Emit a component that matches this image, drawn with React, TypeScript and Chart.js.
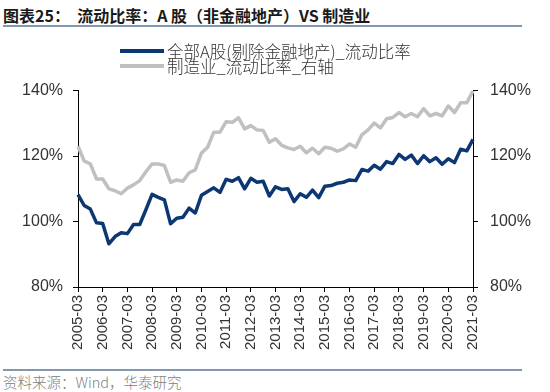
import React, { useEffect, useRef } from "react";
import { Chart, registerables } from "chart.js";

Chart.register(...registerables);

const yearTicks = [
  "2005-03", "2006-03", "2007-03", "2008-03", "2009-03", "2010-03", "2011-03", "2012-03",
  "2013-03", "2014-03", "2015-03", "2016-03", "2017-03", "2018-03", "2019-03", "2020-03", "2021-03",
];
const quarterSuffix = ["03", "06", "09", "12"];

const allAShares = [
  108.2, 104.9, 103.8, 99.6, 99.4, 93.2, 95.4, 96.6, 96.3, 99.1,
  99.1, 103.6, 108.3, 107.4, 106.6, 99.3, 101.0, 101.3, 104.1, 102.6,
  108.0, 109.2, 110.3, 108.9, 112.9, 112.3, 113.4, 110.0, 113.2, 112.0,
  112.3, 107.8, 110.6, 109.8, 110.0, 106.1, 108.5, 107.4, 109.6, 107.3,
  110.8, 111.0, 111.7, 112.0, 112.7, 112.5, 115.9, 115.4, 117.2, 116.0,
  118.3, 117.7, 120.5, 119.0, 120.3, 117.7, 120.1, 118.3, 119.5, 117.5,
  119.2, 118.0, 122.1, 121.6, 125.1,
];

const manufacturing = [
  123.0, 118.5, 117.6, 113.0, 113.0, 110.0, 109.4, 108.5, 110.2, 111.2,
  112.5, 115.2, 117.6, 117.6, 117.1, 112.0, 112.7, 112.3, 114.9, 115.8,
  120.9, 122.7, 127.3, 127.3, 130.5, 130.3, 131.7, 128.3, 129.3, 128.0,
  127.8, 124.2, 125.3, 123.3, 122.5, 122.0, 123.0, 121.0, 122.4, 120.7,
  122.7, 122.4, 121.5, 122.2, 123.7, 122.7, 126.5, 128.0, 130.1, 128.6,
  131.4, 131.8, 133.3, 132.0, 133.0, 132.0, 134.5, 132.3, 133.0, 132.3,
  135.3, 133.3, 136.3, 136.3, 139.9,
];

const yTicks = [80, 100, 120, 140];

const seriesNames = ["全部A股(剔除金融地产)_流动比率", "制造业_流动比率_右轴"];
const colors = ["#0c3772", "#c0c0c0"];

const quarters: string[] = [];
yearTicks.forEach((t) => {
  const y = t.slice(0, 4);
  quarterSuffix.forEach((q) => quarters.push(`${y}-${q}`));
});
const labels = quarters.slice(0, allAShares.length);

const tickFont = { family: "'Liberation Sans', Arial, sans-serif", size: 16 };
const cjk = "'Noto Sans CJK SC', 'Liberation Sans', sans-serif";

export default function App() {
  const ref = useRef<HTMLCanvasElement | null>(null);
  useEffect(() => {
    if (!ref.current) return;
    const yAxis = (position: "left" | "right", pad: number, width: number) => ({
      type: "linear" as const,
      position,
      min: 80,
      max: 140,
      afterBuildTicks: (scale: any) => {
        scale.ticks = yTicks.map((v) => ({ value: v }));
      },
      afterFit: (scale: any) => {
        scale.width = width;
      },
      ticks: {
        color: "#333",
        font: tickFont,
        padding: pad,
        callback: (v: any) => `${v}%`,
      },
      grid: { drawOnChartArea: false, drawTicks: true, tickLength: 5, color: "#000", lineWidth: 1 },
      border: { display: true, color: "#000", width: 1 },
    });
    const chart = new Chart(ref.current, {
      type: "line",
      data: {
        labels,
        datasets: [
          {
            label: seriesNames[0],
            data: allAShares,
            borderColor: colors[0],
            backgroundColor: colors[0],
            borderWidth: 3.5,
            pointRadius: 0,
            tension: 0,
            borderJoinStyle: "round",
            yAxisID: "y",
            order: 0,
          },
          {
            label: seriesNames[1],
            data: manufacturing,
            borderColor: colors[1],
            backgroundColor: colors[1],
            borderWidth: 3.5,
            pointRadius: 0,
            tension: 0,
            borderJoinStyle: "round",
            yAxisID: "y1",
            order: 1,
          },
        ],
      },
      options: {
        animation: false,
        responsive: false,
        maintainAspectRatio: false,
        layout: { padding: { top: 0, left: 0, right: 0, bottom: 0 } },
        plugins: { legend: { display: false }, tooltip: { enabled: false } },
        scales: {
          x: {
            type: "category",
            offset: false,
            afterFit: (scale: any) => {
              scale.height = 78;
            },
            ticks: {
              autoSkip: false,
              minRotation: 90,
              maxRotation: 90,
              padding: 3,
              color: "#333",
              font: { family: "'Liberation Sans', Arial, sans-serif", size: 15 },
              callback: (_v: any, i: number) => (i % 4 === 0 ? labels[i] : ""),
            },
            grid: {
              drawOnChartArea: false,
              drawTicks: true,
              tickLength: 5,
              color: (ctx: any) => (ctx.index % 4 === 0 ? "#000" : "rgba(0,0,0,0)"),
            },
            border: { display: true, color: "#000", width: 1 },
          },
          y: yAxis("left", 10, 78),
          y1: yAxis("right", 12, 77),
        },
      },
    });
    return () => chart.destroy();
  }, []);

  return (
    <div style={{ position: "fixed", left: 0, top: 0, width: 550, height: 392, background: "#fff", overflow: "hidden" }}>
      <div
        style={{
          position: "absolute", left: 3, top: 5, fontFamily: cjk, fontWeight: 700, fontSize: 16,
          color: "#1a1a1a", whiteSpace: "nowrap", lineHeight: "20px",
        }}
      >
        图表25：&nbsp;&nbsp;流动比率：A 股（非金融地产）VS 制造业
      </div>
      <div style={{ position: "absolute", left: 3, top: 25, width: 519, height: 2, background: "#8497b0" }} />
      <canvas ref={ref} width={550} height={296} style={{ position: "absolute", left: 0, top: 69, width: 550, height: 296 }} />
      {seriesNames.map((n, i) => (
        <div key={n} style={{ position: "absolute", left: 120, top: 41 + i * 15, height: 20, whiteSpace: "nowrap" }}>
          <div style={{ position: "absolute", left: 0, top: 8, width: 44, height: 4, background: colors[i] }} />
          <div
            style={{
              position: "absolute", left: 47, top: 0, fontFamily: cjk, fontSize: 16.5, lineHeight: "20px",
              color: "#333", fontWeight: 300,
            }}
          >
            {n}
          </div>
        </div>
      ))}
      <div style={{ position: "absolute", left: 3, top: 369, width: 519, height: 2, background: "#8497b0" }} />
      <div
        style={{
          position: "absolute", left: 3, top: 373, fontFamily: cjk, fontSize: 14.5, lineHeight: "18px",
          color: "#808080", whiteSpace: "nowrap", fontWeight: 300,
        }}
      >
        资料来源：Wind，华泰研究
      </div>
    </div>
  );
}
